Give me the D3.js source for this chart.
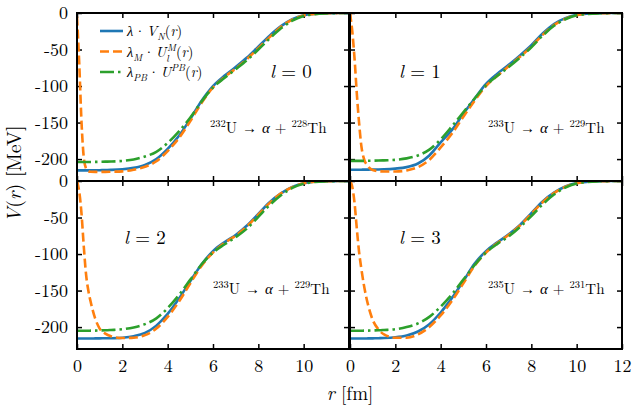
<!DOCTYPE html>
<html>
<head>
<meta charset="utf-8">
<script src="https://cdnjs.cloudflare.com/ajax/libs/d3/7.8.5/d3.min.js"></script>
<style>
  body { margin: 0; background: #fff; }
</style>
</head>
<body>
<script>
// radial grid (fm)
var r = [0, 0.1, 0.2, 0.3, 0.4, 0.5, 0.6, 0.8, 1, 1.25, 1.5, 2, 2.5, 3, 3.5, 4, 4.5, 5, 5.5, 6,
         6.5, 7, 7.5, 8, 8.5, 9, 9.5, 10, 10.5, 11, 11.5, 12];

// l = 0, 232U -> alpha + 228Th
var vn0 = [-215.5, -215.5, -215.5, -215.5, -215.5, -215.4, -215.4, -215.3, -215.2, -215, -214.8, -214, -212, -208, -200, -186,
           -168, -145, -120, -100, -86, -74, -61, -46, -31, -18, -8.5, -3, -1, -0.3, -0.1, 0];
var m0  = [-5, -70, -150, -198, -213, -216.5, -217.3, -217.5, -217.5, -217.5, -217.3, -216.8, -214.5, -210.5, -203, -189,
           -171, -148, -123, -102, -88, -76, -63, -48, -33, -19, -9, -3.5, -1.2, -0.4, -0.1, 0];
var pb0 = [-204, -204, -204, -204, -204, -204, -203.9, -203.8, -203.7, -203.5, -203.3, -202.5, -200.5, -196.5, -190, -178,
           -162, -143, -121, -102, -89, -77, -64.5, -50, -35, -21, -10.5, -4, -1.5, -0.5, -0.1, 0];

// l = 1, 233U -> alpha + 229Th
var vn1 = [-214.5, -214.5, -214.5, -214.5, -214.5, -214.5, -214.4, -214.4, -214.3, -214.2, -214, -213, -211, -206, -195, -177,
           -160, -138, -117, -97, -83, -71, -58, -44, -28, -15, -7, -2.5, -0.8, -0.2, 0, 0];
var m1  = [0, -25, -62, -110, -150, -182, -198, -210, -215, -216.5, -217, -217, -215.5, -211, -201, -184,
           -165, -142, -120, -100, -86, -73, -60, -46, -30, -16.5, -8, -3, -1, -0.3, -0.1, 0];
var pb1 = [-202.5, -202.5, -202.5, -202.5, -202.5, -202.5, -202.4, -202.3, -202.2, -202, -201.7, -201, -199, -195, -187, -173,
           -155, -136, -117, -99, -86, -74, -61, -47, -31, -17.5, -8.5, -3.2, -1.2, -0.4, -0.1, 0];

// l = 2, 233U -> alpha + 229Th
var vn2 = [-215.7, -215.7, -215.7, -215.7, -215.7, -215.6, -215.6, -215.5, -215.4, -215.3, -215.2, -214.5, -212.5, -208, -198, -182,
           -161, -137, -114, -96, -84, -74, -61, -45, -29, -17, -8, -3, -1, -0.3, -0.1, 0];
var m2  = [0, -15, -45, -90, -128, -150, -165, -188, -202, -209, -212.5, -215, -214.5, -211, -202, -186,
           -165, -140, -116, -98, -85, -75, -62, -46, -30, -17, -8.5, -3.2, -1, -0.3, -0.1, 0];
var pb2 = [-205, -205, -205, -205, -205, -205, -204.9, -204.8, -204.6, -204.4, -204, -203, -200.5, -196, -188, -174,
           -156, -135, -114, -98, -87, -77, -65, -49, -33, -19.5, -9.5, -3.8, -1.3, -0.4, -0.1, 0];

// l = 3, 235U -> alpha + 231Th
var vn3 = [-215.7, -215.7, -215.7, -215.7, -215.7, -215.6, -215.6, -215.5, -215.4, -215.2, -215, -214, -211.5, -206, -196, -180,
           -160, -137, -113, -96, -84, -73, -60, -44, -28, -16, -7.5, -2.8, -1, -0.3, -0.1, 0];
var m3  = [0, -8, -30, -65, -97, -120, -140, -170, -190, -203, -210, -214.5, -214.5, -210, -200, -184,
           -164, -140, -116, -98, -85, -74, -61, -45, -29, -16.5, -8, -3, -1, -0.3, -0.1, 0];
var pb3 = [-205, -205, -205, -205, -205, -205, -204.9, -204.8, -204.6, -204.4, -204, -203, -200, -195, -186, -172,
           -155, -135, -115, -98, -86, -76, -63, -48, -32, -18.5, -9, -3.5, -1.2, -0.4, -0.1, 0];

var lValues = [0, 1, 2, 3];
var parents = [232, 233, 233, 235];
var daughters = [228, 229, 229, 231];
var vnSeries = [vn0, vn1, vn2, vn3];
var mSeries = [m0, m1, m2, m3];
var pbSeries = [pb0, pb1, pb2, pb3];

var xTicks = [0, 2, 4, 6, 8, 10, 12];
var yTicks = [0, -50, -100, -150, -200];

var width = 640, height = 410;
var colX = [77, 350], rowY = [13, 181];
var pw = 272, ph = 168;
// the renderer only takes one family name, so no fallback lists
var cm = "Latin Modern Roman";
var greekFont = "Liberation Serif";

var blue = "#1f77b4", orange = "#ff7f0e", green = "#2ca02c";

var svg = d3.select("body").append("svg")
    .attr("width", width).attr("height", height)
    .attr("font-family", cm);

// helper for math-ish text built from tspans
function rich(sel, parts) {
  parts.forEach(function (p) {
    var t = sel.append("tspan").text(p.t).attr("font-family", p.g ? greekFont : cm);
    if (p.i) t.attr("font-style", "italic");
    if (p.s) t.attr("font-size", p.s);
    if (p.dy) t.attr("dy", p.dy);
    if (p.dx) t.attr("dx", p.dx);
  });
}

var annot = [
  {lx: 270, ly: 78, rx: 210, ry: 133},
  {lx: 399, ly: 78, rx: 488, ry: 133},
  {lx: 124, ly: 244, rx: 213, ry: 294},
  {lx: 399, ly: 244, rx: 488, ry: 294}
];

lValues.forEach(function (l, i) {
  var col = i % 2, row = Math.floor(i / 2);
  var x0 = colX[col], y0 = rowY[row];

  var x = d3.scaleLinear().domain([0, 12]).range([x0, x0 + pw]);
  var y = d3.scaleLinear().domain([-230, 0]).range([y0 + ph, y0]);

  svg.append("clipPath").attr("id", "clip" + i)
    .append("rect").attr("x", x0).attr("y", y0).attr("width", pw).attr("height", ph);

  var g = svg.append("g");

  // bottom labels only on the lower row; the left panel drops its "12"
  var xFmt = function (d) {
    if (row === 0) return "";
    if (col === 0 && d === 12) return "";
    return d;
  };

  // ticks on all four sides, pointing inward
  g.append("g").attr("transform", "translate(0," + (y0 + ph) + ")")
    .call(d3.axisBottom(x).tickValues(xTicks).tickSize(-5).tickPadding(10).tickFormat(xFmt));
  g.append("g").attr("transform", "translate(0," + y0 + ")")
    .call(d3.axisTop(x).tickValues(xTicks).tickSize(-5).tickFormat(function () { return ""; }));
  g.append("g").attr("transform", "translate(" + x0 + ",0)")
    .call(d3.axisLeft(y).tickValues(yTicks).tickSize(-5).tickPadding(9)
      .tickFormat(col === 0 ? function (d) { return String(d); } : function () { return ""; }));
  g.append("g").attr("transform", "translate(" + (x0 + pw) + ",0)")
    .call(d3.axisRight(y).tickValues(yTicks).tickSize(-5).tickFormat(function () { return ""; }));

  g.selectAll("g").attr("font-family", cm);
  g.selectAll(".domain").remove();
  g.selectAll(".tick line").attr("stroke", "#000").attr("stroke-width", 1.5);
  g.selectAll(".tick text").attr("font-size", 18)
    .attr("font-family", cm).attr("fill", "#000");

  var line = d3.line()
    .x(function (d, k) { return x(r[k]); })
    .y(function (d) { return y(d); })
    .curve(d3.curveMonotoneX);

  var lines = svg.append("g").attr("clip-path", "url(#clip" + i + ")");
  lines.append("path").datum(vnSeries[i]).attr("d", line)
    .attr("fill", "none").attr("stroke", blue).attr("stroke-width", 2.6);
  lines.append("path").datum(mSeries[i]).attr("d", line)
    .attr("fill", "none").attr("stroke", orange).attr("stroke-width", 2.6)
    .attr("stroke-dasharray", "9,4");
  lines.append("path").datum(pbSeries[i]).attr("d", line)
    .attr("fill", "none").attr("stroke", green).attr("stroke-width", 2.6)
    .attr("stroke-dasharray", "14,4,2.5,4");

  svg.append("rect").attr("x", x0).attr("y", y0).attr("width", pw).attr("height", ph)
    .attr("fill", "none").attr("stroke", "#000").attr("stroke-width", 2);

  // l = n
  var lt = svg.append("text").attr("x", annot[i].lx).attr("y", annot[i].ly).attr("font-size", 19);
  rich(lt, [{t: "l", i: 1}, {t: " = " + l}]);

  // decay channel
  var rt = svg.append("text").attr("x", annot[i].rx).attr("y", annot[i].ry).attr("font-size", 15);
  rich(rt, [
    {t: String(parents[i]), s: 10.5, dy: -6},
    {t: "U ", dy: 6},
    {t: "\u2192", g: 1},
    {t: " "},
    {t: "\u03b1", i: 1, g: 1},
    {t: " + "},
    {t: String(daughters[i]), s: 10.5, dy: -6},
    {t: "Th", dy: 6}
  ]);
});

// legend
var legend = [
  {color: blue, dash: null, parts: [
    {t: "\u03bb", i: 1, g: 1}, {t: "\u00b7", dx: 1}, {t: "V", i: 1, dx: 1}, {t: "N", i: 1, s: 10, dy: 4},
    {t: "(", dy: -4}, {t: "r", i: 1}, {t: ")"}]},
  {color: orange, dash: "9,4", parts: [
    {t: "\u03bb", i: 1, g: 1}, {t: "M", i: 1, s: 10, dy: 4}, {t: "\u00b7", dy: -4, dx: 1}, {t: "U", i: 1, dx: 1},
    {t: "l", i: 1, s: 10, dy: 5}, {t: "M", i: 1, s: 10, dy: -11, dx: -2}, {t: "(", dy: 6}, {t: "r", i: 1}, {t: ")"}]},
  {color: green, dash: "14,4,2.5,4", parts: [
    {t: "\u03bb", i: 1, g: 1}, {t: "PB", i: 1, s: 10, dy: 4}, {t: "\u00b7", dy: -4, dx: 1}, {t: "U", i: 1, dx: 1},
    {t: "PB", i: 1, s: 10, dy: -6}, {t: "(", dy: 6}, {t: "r", i: 1}, {t: ")"}]}
];
legend.forEach(function (d, k) {
  var ly = 31 + k * 20.5;
  var ln = svg.append("line").attr("x1", 100).attr("x2", 123).attr("y1", ly).attr("y2", ly)
    .attr("stroke", d.color).attr("stroke-width", 2.6);
  if (d.dash) ln.attr("stroke-dasharray", d.dash);
  var t = svg.append("text").attr("x", 127).attr("y", ly + 5).attr("font-size", 14.5);
  rich(t, d.parts);
});

// axis titles
var yl = svg.append("text").attr("transform", "translate(21,174) rotate(-90)")
  .attr("text-anchor", "middle").attr("font-size", 20);
rich(yl, [{t: "V", i: 1}, {t: "("}, {t: "r", i: 1}, {t: ") [MeV]"}]);

var xl = svg.append("text").attr("x", 350).attr("y", 400)
  .attr("text-anchor", "middle").attr("font-size", 19);
rich(xl, [{t: "r", i: 1}, {t: " [fm]"}]);
</script>
</body>
</html>
